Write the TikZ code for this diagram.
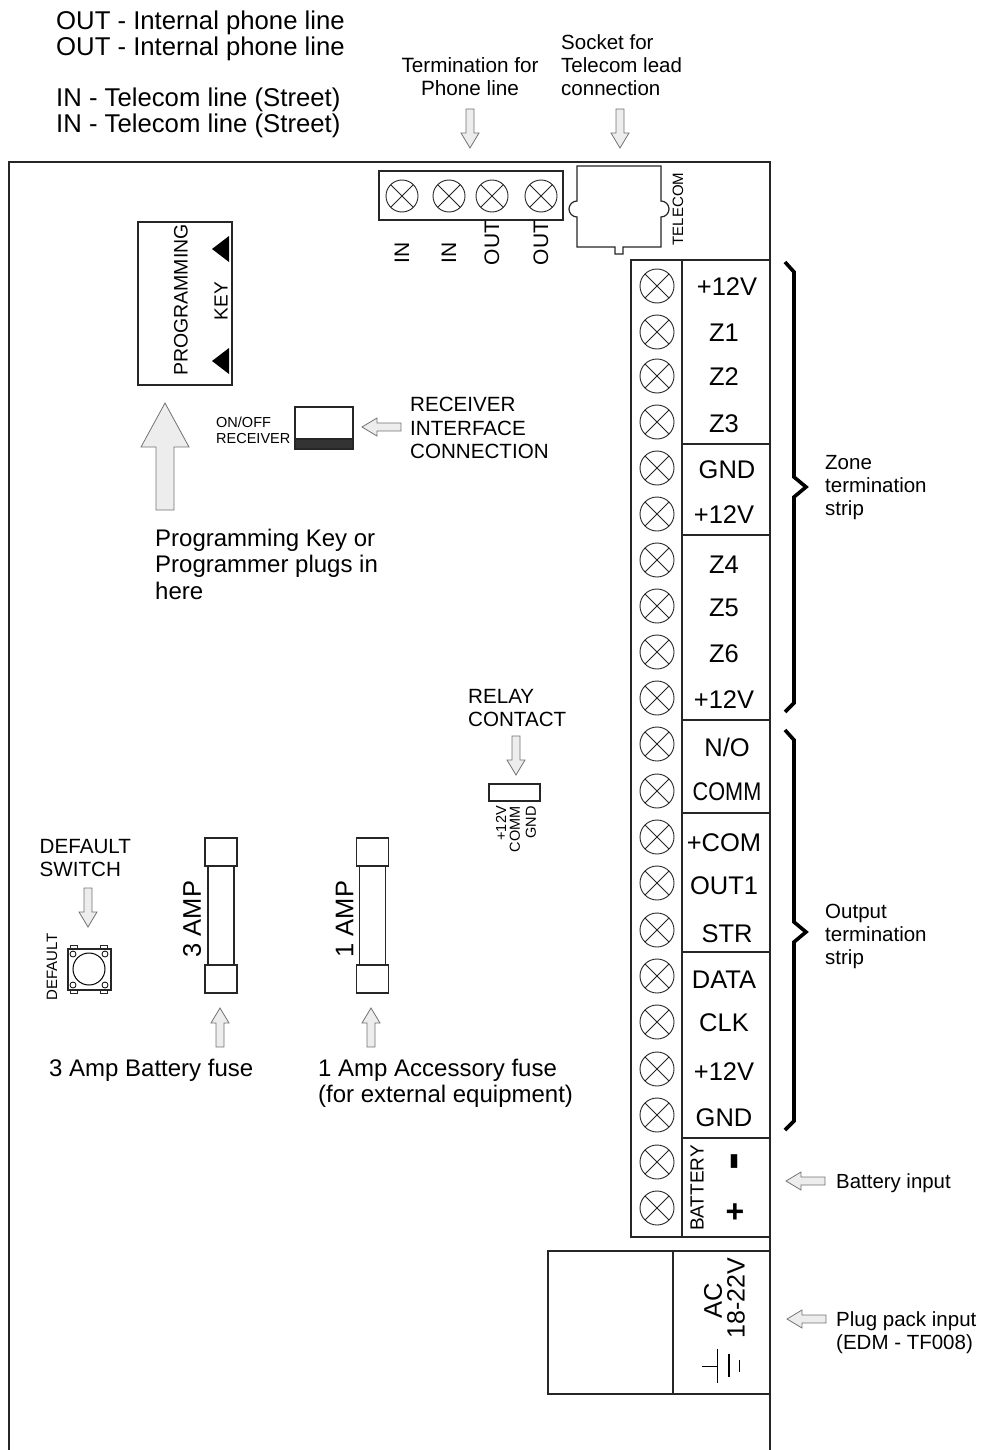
\documentclass[tikz,border=0pt]{standalone}
\usepackage{fontspec}
\setmainfont{Liberation Sans}
\usetikzlibrary{positioning}
\newcommand{\fsize}[1]{\fontsize{#1}{#1}\selectfont}
\tikzset{
  board/.style={draw=black!85,line width=1.2pt},
  part/.style={draw=black!85,line width=1.2pt,fill=white},
  screw/.style={circle,draw=black!85,line width=.9pt,inner sep=0pt,minimum size=34pt,
    path picture={\draw[line width=.9pt] (path picture bounding box.south west) -- (path picture bounding box.north east)
      (path picture bounding box.north west) -- (path picture bounding box.south east);}},
  hint/.style={draw=black!55,line width=.8pt,fill=black!7},
  brace/.style={draw=black,line width=3.6pt,line join=miter},
  lab/.style={inner sep=0pt,align=left,anchor=west},
  clab/.style={inner sep=0pt,align=center},
  termlab/.style={inner sep=0pt,font=\fsize{25.5}},
  uplab/.style={inner sep=0pt,rotate=90}
}
\newcommand{\hintpath}{(0,0) -- (-15,-9) -- (-15,-4) -- (-39,-4) -- (-39,4) -- (-15,4) -- (-15,9) -- cycle}
\begin{document}
\begin{tikzpicture}[x=1pt,y=-1pt]
\useasboundingbox (0,0) rectangle (981,1450);
\draw[board] (9,1450) -- (9,162) -- (770,162) -- (770,1450);

% phone line terminals
\node[lab,font={\fontsize{25.7}{26}\selectfont}] (outA) at (56,22.5) {OUT - Internal phone line};
\node[lab,font={\fontsize{25.7}{26}\selectfont}] (outB) at (56,48.5) {OUT - Internal phone line};
\node[lab,font={\fontsize{25.7}{26}\selectfont}] (inA) at (56,100) {IN - Telecom line (Street)};
\node[lab,font={\fontsize{25.7}{26}\selectfont}] (inB) at (56,126) {IN - Telecom line (Street)};
\node[clab,font={\fontsize{20.7}{23}\selectfont}] (phonetxt) at (470,77) {Termination for\\Phone line};
\node[lab,font={\fontsize{20.5}{23}\selectfont}] (sockettxt) at (561,65) {Socket for\\Telecom lead\\connection};
\draw[part] (379,171) rectangle (563,220);
\foreach \x/\n in {402/a,449/b,492/c,541/d}
  \node[screw,minimum size=32pt] (phone\n) at (\x,196) {};
\foreach \x/\y/\txt/\n in {402/253/IN/a,449/253/IN/b,492/243/OUT/c,541/243/OUT/d}
  \node[uplab,font=\fsize{21}] (phonelab\n) at (\x,\y) {\txt};

% telecom socket
\draw[part] (577,166) -- (661,166) -- (661,201) arc [start angle=-90,end angle=90,radius=8] -- (661,247)
  -- (623,247) -- (623,254) -- (615,254) -- (615,247) -- (577,247) -- (577,217)
  arc [start angle=90,end angle=270,radius=8] -- cycle;
\node[uplab,font=\fsize{15}] (telecomlab) at (678,209) {TELECOM};

% programming key
\draw[part] (138,222) rectangle (232,385);
\fill (229,236) -- (212,249) -- (229,262) -- cycle;
\fill (229,348) -- (212,361) -- (229,374) -- cycle;
\node[uplab,font=\fsize{19.5}] (progtxt) at (181,300) {PROGRAMMING};
\node[uplab,font=\fsize{19}] (keytxt) at (221,301) {KEY};
\draw[hint] (165,403) -- (189,447) -- (174,447) -- (174,510) -- (156,510) -- (156,447) -- (141,447) -- cycle;
\node[lab,font={\fontsize{24}{26.5}\selectfont}] (progkeytxt) at (155,564) {Programming Key or\\Programmer plugs in\\here};

% receiver
\draw[part] (295,407) rectangle (353,449);
\draw[part,fill=black!80] (295,439) rectangle (353,449);
\node[lab,font={\fontsize{14.5}{16}\selectfont}] (rxtxt) at (216,430) {ON/OFF\\RECEIVER};
\node[lab,font={\fontsize{20.6}{23.5}\selectfont}] (ifacetxt) at (410,428) {RECEIVER\\INTERFACE\\CONNECTION};

% relay
\node[lab,font={\fontsize{20.6}{23.5}\selectfont}] (relaytxt) at (468,708) {RELAY\\CONTACT};
\draw[part] (489,784) rectangle (540,801);
\foreach \x/\txt/\n in {501/+12V/a,515/COMM/b,531/GND/c}
  \node[inner sep=0pt,rotate=90,anchor=east,font=\fsize{14.5}] (relay\n) at (\x,806) {\txt};

% default switch
\node[lab,font={\fontsize{20.6}{23.5}\selectfont}] (switchtxt) at (39.5,858) {DEFAULT\\SWITCH};
\node[uplab,font=\fsize{15}] (defaultlab) at (52,967) {DEFAULT};
\foreach \x in {70,100} {
  \draw[part,line width=1pt] (\x,945) rectangle ++(7,4);
  \draw[part,line width=1pt] (\x,988) rectangle ++(7,5);
}
\draw[part] (68,949) rectangle (111,990);
\draw[line width=1pt] (89,969) circle [radius=16];
\foreach \x in {73,105}
  \foreach \y in {954,985}
    \draw[line width=.8pt] (\x,\y) circle [radius=3];

% fuses
\foreach \x/\n in {221/3,372.5/1} {
  \draw[part] (\x-13,866) rectangle (\x+13,965);
  \draw[part] (\x-16,838) rectangle (\x+16,866);
  \draw[part] (\x-16,965) rectangle (\x+16,993);
}
\node[uplab,font=\fsize{25.5}] (fuseC) at (192,919) {3 AMP};
\node[uplab,font=\fsize{25.5}] (fuseD) at (344.5,919) {1 AMP};
\node[lab,font=\fsize{24}] (fuseA) at (49,1070) {3 Amp Battery fuse};
\node[lab,font={\fontsize{24}{26}\selectfont}] (fuseB) at (318,1083) {1 Amp Accessory fuse\\(for external equipment)};

% terminal strip
\draw[part] (631,260) rectangle (682,1237);
\draw[part] (682,260) -- (770,260) (682,1237) -- (770,1237);
\foreach \y in {444,535,720,813,952,1138}
  \draw[board] (682,\y) -- (770,\y);
\foreach \y [count=\i] in {286,332,376,422,468,514,560,606,652,698,744,791,837,883,930,976,1022,1069,1115,1162,1208}
  \node[screw] (strip\i) at (657,\y) {};
\foreach \y/\x/\txt [count=\i] in {287/727/+12V,333/724/Z1,377/724/Z2,424/724/Z3,470/727/GND,515/724/+12V,565/724/Z4,608/724/Z5,654/724/Z6,700/724/+12V,747/727/N\slash O,843/724/+COM,886/724/OUT1,934/727/STR,980/724/DATA,1023/724/CLK,1072/724/+12V,1118/724/GND}
  \node[termlab] (term\i) at (\x,\y) {\txt};
\node[termlab,transform shape,xscale=.85] (termcomm) at (727,792) {COMM};
\node[uplab,font=\fsize{19}] (batterytxt) at (697,1188) {BATTERY};
\node[inner sep=0pt,rotate=90,font={\bfseries\fsize{54}}] (batminus) at (740,1161) {-};
\node[inner sep=0pt,font={\bfseries\fsize{32}}] (batplus) at (735,1213) {+};
\draw[brace] (785,262) -- (794,272) -- (794,477) -- (806,487) -- (794,497) -- (794,703) -- (785,712);
\draw[brace] (785,730) -- (794,740) -- (794,922) -- (806,932) -- (794,942) -- (794,1121) -- (785,1130);
\node[lab,font={\fontsize{20.5}{23}\selectfont}] (zonetxt) at (825,488) {Zone\\termination\\strip};
\node[lab,font={\fontsize{20.5}{23}\selectfont}] (outputtxt) at (825,936.5) {Output\\termination\\strip};
\node[lab,font=\fsize{20.4}] (battxt) at (836,1183.5) {Battery input};

% plug pack
\draw[part] (548,1251) rectangle (770,1394);
\draw[part] (673,1251) -- (673,1394);
\node[uplab,font=\fsize{25.5}] (aclab) at (713,1301) {AC};
\node[uplab,font=\fsize{25}] (vlab) at (736,1298) {18-22V};
\draw[line width=1pt] (702,1366) -- (717,1366) (717,1349) -- (717,1383);
\draw[line width=1.4pt] (729,1354) -- (729,1377);
\draw[line width=1pt] (739,1360) -- (739,1372);
\node[lab,font={\fontsize{20.5}{23}\selectfont}] (plugtxt) at (836,1333) {Plug pack input\\(EDM - TF008)};

% pointers
\foreach \x/\y/\a in {470/148/-90,620/148/-90,516/775/-90,88/927/-90,220/1008/90,371/1008/90,362/427/180,786/1181/180,787/1319/180}
  \draw[hint,shift={(\x,\y)},rotate=\a] \hintpath;
\end{tikzpicture}
\end{document}
